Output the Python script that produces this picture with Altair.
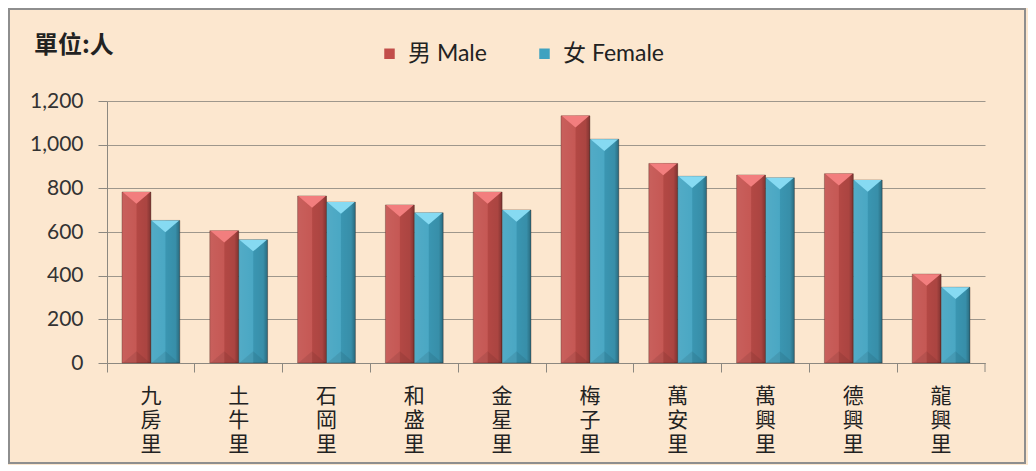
import altair as alt
import pandas as pd

villages = ["九房里", "土牛里", "石岡里", "和盛里", "金星里", "梅子里", "萬安里", "萬興里", "德興里", "龍興里"]
male = [783, 606, 765, 724, 783, 1132, 914, 861, 867, 407]
female = [653, 565, 737, 688, 701, 1025, 855, 848, 838, 347]
series = ["男 Male", "女 Female"]
colors = ["#C24E4A", "#3FA2C0"]
top_colors = ["#F27E7E", "#86DAF2"]

rows = []
for v, m, f in zip(villages, male, female):
    rows.append({"里": v, "性別": series[0], "人數": m})
    rows.append({"里": v, "性別": series[1], "人數": f})
df = pd.DataFrame(rows)

W, H = 878, 262
FONT = "Lato, 'Noto Sans CJK TC', sans-serif"
CJK = "'Noto Sans CJK TC', sans-serif"

x_enc = alt.X("里:N", sort=villages, title=None,
              scale=alt.Scale(paddingInner=0, paddingOuter=0),
              axis=alt.Axis(bandPosition=0, labelAngle=0,
                            labelExpr="split(datum.label, '')",
                            labelFont=CJK, labelFontSize=21, labelLineHeight=24,
                            labelColor="#222222", labelBaseline="top",
                            labelPadding=13, tickSize=9, tickColor="#8C8880",
                            domainColor="#8C8880", grid=False))
xo_enc = alt.XOffset("性別:N", sort=series,
                     scale=alt.Scale(paddingInner=0, paddingOuter=0.52))
y_enc = alt.Y("人數:Q", title=None,
              scale=alt.Scale(domain=[0, 1200], nice=False),
              axis=alt.Axis(values=[0, 200, 400, 600, 800, 1000, 1200], format=",.0f",
                            labelFont=FONT, labelFontSize=21, labelColor="#333333",
                            labelPadding=15, tickSize=9, tickColor="#8C8880",
                            domainColor="#8C8880", gridColor="#9E978C",
                            gridWidth=1.2))

base = alt.Chart(df)

bars = base.mark_bar(stroke="rgba(60,30,20,0.35)", strokeWidth=1).encode(
    x=x_enc, xOffset=xo_enc, y=y_enc,
    color=alt.Color("性別:N", sort=series,
                    scale=alt.Scale(domain=series, range=colors),
                    legend=alt.Legend(title=None, orient="none", direction="horizontal",
                                      legendX=271, legendY=-59, symbolType="square",
                                      symbolSize=110, symbolStrokeWidth=0,
                                      labelFont=FONT, labelFontSize=23,
                                      labelColor="#222222", labelOffset=7,
                                      columnPadding=46)),
)

shade = base.mark_bar(
    color=alt.Gradient(
        gradient="linear", x1=0, x2=1, y1=0, y2=0,
        stops=[alt.GradientStop(offset=0, color="rgba(255,255,255,0.10)"),
               alt.GradientStop(offset=0.48, color="rgba(255,255,255,0.06)"),
               alt.GradientStop(offset=0.52, color="rgba(0,0,0,0.08)"),
               alt.GradientStop(offset=0.85, color="rgba(0,0,0,0.12)"),
               alt.GradientStop(offset=1, color="rgba(0,0,0,0.35)")])
).encode(x=x_enc, xOffset=xo_enc, y=y_enc)

tops = base.mark_point(shape="M-1,0 L1,0 L0,0.85 Z", filled=True, opacity=1,
                       size=760, strokeWidth=0).encode(
    x=x_enc, xOffset=xo_enc, y=y_enc,
    fill=alt.Fill("性別:N", sort=series,
                  scale=alt.Scale(domain=series, range=top_colors), legend=None),
)

bottoms = base.mark_point(shape="M-1,0 L1,0 L0,-0.85 Z", filled=True, opacity=0.08,
                          size=760, strokeWidth=0, color="#000000").encode(
    x=x_enc, xOffset=xo_enc, y=alt.datum(0),
)

title_txt = alt.Chart(pd.DataFrame({"t": ["單位:人"]})).mark_text(
    font=CJK, fontSize=24, fontWeight="bold", align="left", baseline="middle",
    color="#222222").encode(x=alt.value(-73), y=alt.value(-55), text="t:N")

end_tick = alt.Chart(pd.DataFrame({"t": [0]})).mark_rule(color="#8C8880").encode(
    x=alt.value(W), y=alt.value(H), y2=alt.value(H + 9))

frame = alt.Chart(pd.DataFrame({"t": [0]})).mark_rect(
    fill="transparent", stroke="#8E8E8E", strokeWidth=2).encode(
    x=alt.value(-98), x2=alt.value(W + 40), y=alt.value(-92), y2=alt.value(H + 100))

chart = alt.layer(bars, shade, tops, bottoms, end_tick, title_txt, frame).properties(
    width=W, height=H,
    autosize=alt.AutoSizeParams(type="none"),
    padding={"left": 99, "top": 93, "right": 43, "bottom": 102},
    background="#FCE7CF",
).configure_view(stroke=None)

chart.save("out.html", embed_options={"renderer": "svg", "actions": False})
